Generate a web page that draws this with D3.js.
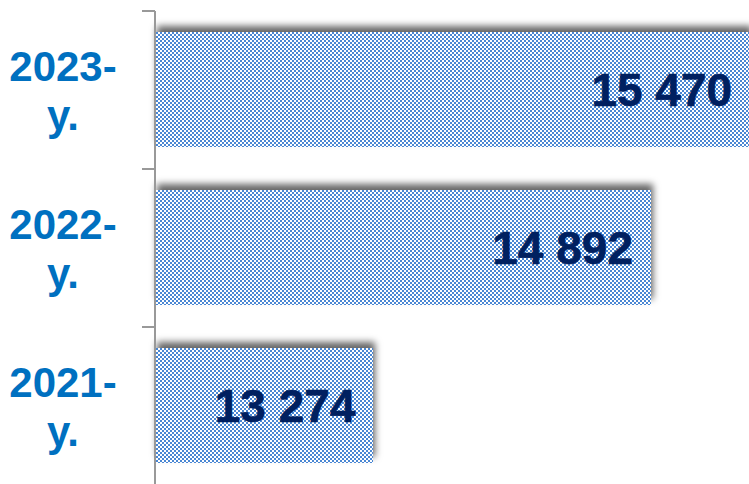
<!DOCTYPE html>
<html>
<head>
<meta charset="utf-8">
<script src="https://cdn.jsdelivr.net/npm/d3@7"></script>
<style>
  body { margin: 0; background: #fff; }
  svg { display: block; }
</style>
</head>
<body>
<script>
const years = ['2023-', '2022-', '2021-']
const values = [15470, 14892, 13274]
const suffix = 'y.'

const W = 749, H = 484

const svg = d3.select('body').append('svg')
    .attr('width', W)
    .attr('height', H)

const defs = svg.append('defs')

// checkerboard fill, 2px cells
const pat = defs.append('pattern')
    .attr('id', 'checks')
    .attr('width', 4)
    .attr('height', 4)
    .attr('patternUnits', 'userSpaceOnUse')
pat.append('rect').attr('width', 4).attr('height', 4).attr('fill', '#fff')
pat.append('path')
    .attr('d', 'M0 0h2v2h-2zM2 2h2v2h-2z')
    .attr('fill', '#4a87d3')
    .attr('shape-rendering', 'crispEdges')

const filt = defs.append('filter')
    .attr('id', 'shadow')
    .attr('x', '-10%').attr('y', '-30%')
    .attr('width', '120%').attr('height', '160%')
filt.append('feDropShadow')
    .attr('dx', 2)
    .attr('dy', -6)
    .attr('stdDeviation', 3.5)
    .attr('flood-color', '#000')
    .attr('flood-opacity', 0.6)

const x = d3.scaleLinear()
    .domain([12000, 16000])
    .range([155, 841])

const y = d3.scaleBand()
    .domain(years)
    .range([11, 485])
    .paddingInner(0.27)
    .paddingOuter(0.135)
    .round(true)

const yTicks = d3.scaleBand().domain(years).range([11, 485])

// shadows underneath
svg.selectAll('rect.shade')
    .data(values)
    .enter()
    .append('rect')
    .attr('class', 'shade')
    .attr('x', x(12000))
    .attr('y', (d, i) => y(years[i]))
    .attr('width', d => Math.round(x(d) - x(12000)))
    .attr('height', y.bandwidth())
    .attr('fill', '#fff')
    .attr('filter', 'url(#shadow)')

// bars
svg.selectAll('rect.bar')
    .data(values)
    .enter()
    .append('rect')
    .attr('class', 'bar')
    .attr('x', x(12000))
    .attr('y', (d, i) => y(years[i]))
    .attr('width', d => Math.round(x(d) - x(12000)))
    .attr('height', y.bandwidth())
    .attr('fill', 'url(#checks)')
    .attr('shape-rendering', 'crispEdges')

// axis line + ticks
const axis = svg.append('g').attr('stroke', '#999').attr('stroke-width', 2)
axis.append('line')
    .attr('x1', 155).attr('x2', 155)
    .attr('y1', 11).attr('y2', H)
axis.selectAll('line.tick')
    .data(years)
    .enter()
    .append('line')
    .attr('class', 'tick')
    .attr('x1', 142).attr('x2', 155)
    .attr('y1', d => Math.round(yTicks(d))).attr('y2', d => Math.round(yTicks(d)))

// value labels
svg.selectAll('text.val')
    .data(values)
    .enter()
    .append('text')
    .attr('class', 'val')
    .attr('x', d => x(d) - 18)
    .attr('y', (d, i) => y(years[i]) + y.bandwidth() / 2)
    .attr('dy', '0.36em')
    .attr('text-anchor', 'end')
    .attr('font-family', 'Liberation Sans, Arial, sans-serif')
    .attr('font-weight', 'bold')
    .attr('font-size', 46)
    .attr('fill', '#002060')
    .attr('stroke', '#002060')
    .attr('stroke-width', 0.6)
    .text(d => d3.format(',')(d).replace(',', ' '))

// category labels
const cat = svg.selectAll('text.cat')
    .data(years)
    .enter()
    .append('text')
    .attr('class', 'cat')
    .attr('text-anchor', 'middle')
    .attr('font-family', 'Liberation Sans, Arial, sans-serif')
    .attr('font-weight', 'bold')
    .attr('font-size', 42)
    .attr('fill', '#0070c0')
cat.append('tspan')
    .attr('x', 63)
    .attr('y', d => y(d) + y.bandwidth() / 2 - 9)
    .text(d => d)
cat.append('tspan')
    .attr('x', 63)
    .attr('y', d => y(d) + y.bandwidth() / 2 + 40)
    .text(suffix)
</script>
</body>
</html>
